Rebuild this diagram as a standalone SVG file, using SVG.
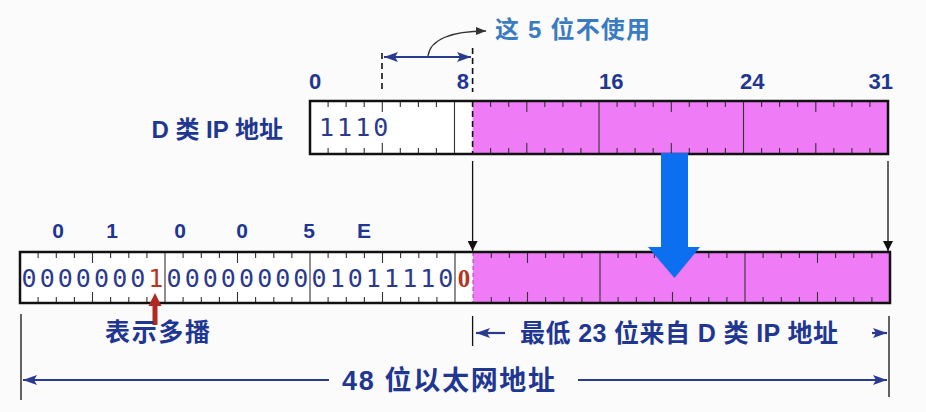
<svg xmlns="http://www.w3.org/2000/svg" width="926" height="412" viewBox="0 0 926 412">
<style>
.lbl{font-family:"Liberation Sans","Noto Sans CJK SC",sans-serif;font-weight:bold;fill:#1f3790}
.bits{font-family:"DejaVu Sans Mono","Liberation Mono",monospace;font-size:25px;fill:#2b3a8c}
.box{stroke:#111;stroke-width:2.5;fill:none}
.tk{stroke:#333;stroke-width:1.1;fill:none}
.nav{stroke:#2a3a8f;stroke-width:2.2;fill:none}
.thin{stroke:#111;stroke-width:1.3;fill:none}
</style>
<defs>
<marker id="ah" viewBox="0 0 10 10" refX="10" refY="5" markerWidth="10" markerHeight="10" markerUnits="userSpaceOnUse" orient="auto"><path d="M0,0L10,5L0,10z" fill="#111"/></marker>
<marker id="nh" viewBox="0 0 14 10" refX="14" refY="5" markerWidth="14" markerHeight="10" markerUnits="userSpaceOnUse" orient="auto-start-reverse"><path d="M0,0L14,5L0,10L3,5z" fill="#2a3a8f"/></marker>
<marker id="gh" viewBox="0 0 10 8" refX="10" refY="4" markerWidth="10" markerHeight="8" markerUnits="userSpaceOnUse" orient="auto"><path d="M0,0L10,4L0,8z" fill="#333"/></marker>
</defs>
<rect width="926" height="412" fill="#fbfbfb"/>

<g id="ip-box">
<rect x="310" y="101" width="162.6" height="53" fill="#fff"/>
<rect x="472.6" y="101" width="415.4" height="53" fill="#f07bf6"/>
<path class="tk" d="M328.1 101v6M346.1 101v6M364.2 101v6M400.3 101v6M418.4 101v6M436.4 101v6M490.6 101v6M508.7 101v6M544.8 101v6M562.9 101v6M580.9 101v6M617.1 101v6M635.1 101v6M653.2 101v6M689.3 101v6M707.4 101v6M725.4 101v6M761.6 101v6M779.6 101v6M797.7 101v6M833.8 101v6M851.9 101v6M869.9 101v6
M328.1 154v-6M346.1 154v-6M364.2 154v-6M400.3 154v-6M418.4 154v-6M436.4 154v-6M490.6 154v-6M508.7 154v-6M544.8 154v-6M562.9 154v-6M580.9 154v-6M617.1 154v-6M635.1 154v-6M653.2 154v-6M689.3 154v-6M707.4 154v-6M725.4 154v-6M761.6 154v-6M779.6 154v-6M797.7 154v-6M833.8 154v-6M851.9 154v-6M869.9 154v-6
M382.3 101v11M526.8 101v11M671.3 101v11M815.8 101v11M382.3 154v-11M526.8 154v-11M671.3 154v-11M815.8 154v-11
M454.5 101V154M599 101V154M743.5 101V154"/>
<path d="M472.6 101V154" stroke="#111" stroke-width="1.6" stroke-dasharray="6 4"/>
<rect class="box" x="310" y="101" width="578" height="53"/>
<text class="bits" y="136" x="319 337.1 355.2 373.3">1110</text>
</g>

<g id="mac-box">
<rect x="20" y="252" width="453.1" height="51" fill="#fff"/>
<rect x="473.1" y="252" width="416.9" height="51" fill="#f07bf6"/>
<path class="tk" d="M38.1 252v6M56.3 252v6M74.4 252v6M110.6 252v6M128.8 252v6M146.9 252v6M183.1 252v6M201.3 252v6M219.4 252v6M255.6 252v6M273.8 252v6M291.9 252v6M328.1 252v6M346.3 252v6M364.4 252v6M400.6 252v6M418.8 252v6M436.9 252v6M491.3 252v6M509.4 252v6M545.6 252v6M563.8 252v6M581.9 252v6M618.1 252v6M636.3 252v6M654.4 252v6M690.6 252v6M708.8 252v6M726.9 252v6M763.1 252v6M781.3 252v6M799.4 252v6M835.6 252v6M853.8 252v6M871.9 252v6
M38.1 303v-6M56.3 303v-6M74.4 303v-6M110.6 303v-6M128.8 303v-6M146.9 303v-6M183.1 303v-6M201.3 303v-6M219.4 303v-6M255.6 303v-6M273.8 303v-6M291.9 303v-6M328.1 303v-6M346.3 303v-6M364.4 303v-6M400.6 303v-6M418.8 303v-6M436.9 303v-6M491.3 303v-6M509.4 303v-6M545.6 303v-6M563.8 303v-6M581.9 303v-6M618.1 303v-6M636.3 303v-6M654.4 303v-6M690.6 303v-6M708.8 303v-6M726.9 303v-6M763.1 303v-6M781.3 303v-6M799.4 303v-6M835.6 303v-6M853.8 303v-6M871.9 303v-6
M92.5 252v11M237.5 252v11M382.5 252v11M527.5 252v11M672.5 252v11M817.5 252v11M92.5 303v-11M237.5 303v-11M382.5 303v-11M527.5 303v-11M672.5 303v-11M817.5 303v-11
M165 252V303M310 252V303M455 252V303M600 252V303M745 252V303"/>
<path d="M473.1 252V303" stroke="#c04cc4" stroke-width="1.3" stroke-dasharray="4 3"/>
<rect class="box" x="20" y="252" width="870" height="51"/>
<text class="bits" y="287" text-anchor="middle" x="29.1 47.2 65.3 83.4 101.6 119.7 137.8">0000000</text>
<text class="bits" y="287" text-anchor="middle" x="155.9" style="fill:#b5361f">1</text>
<text class="bits" y="287" text-anchor="middle" x="174.1 192.2 210.3 228.4 246.6 264.7 282.8 300.9">00000000</text>
<text class="bits" y="287" text-anchor="middle" x="319.1 337.2 355.3 373.4 391.6 409.7 427.8 445.9">01011110</text>
<text y="287" x="464.1" text-anchor="middle" font-family="'Liberation Serif',serif" font-weight="bold" font-size="25" fill="#b5361f">0</text>
</g>

<g id="connectors">
<path d="M382 53V92" stroke="#111" stroke-width="1.6" stroke-dasharray="6 4"/>
<path d="M472.6 48V92" stroke="#111" stroke-width="1.6" stroke-dasharray="6 4"/>
<path class="nav" d="M384 57H471" marker-start="url(#nh)" marker-end="url(#nh)"/>
<path d="M428 56C430 40 450 31 486 31" stroke="#333" stroke-width="1.3" fill="none" marker-end="url(#gh)"/>
<path class="thin" d="M472.6 161V251" marker-end="url(#ah)"/>
<path class="thin" d="M888 161V251" marker-end="url(#ah)"/>
<polygon points="661,153 688,153 688,247 700,247 674.5,278 648,247 661,247" fill="#0b6ff0"/>
<polygon points="155,293 161.5,306 148.5,306" fill="#b02a22"/>
<rect x="152.5" y="305" width="5" height="20" fill="#b02a22"/>
<path class="thin" d="M21 314V400M472.6 316V346M889 316V397"/>
<path class="nav" d="M505 333H476" marker-end="url(#nh)"/>
<path class="nav" d="M872 333H887" marker-end="url(#nh)"/>
<path class="nav" d="M329 380H23" marker-end="url(#nh)"/>
<path class="nav" d="M578 380H887" marker-end="url(#nh)"/>
</g>

<g id="labels">
<text class="lbl" x="495" y="38" font-size="24" textLength="155" style="fill:#3b7bbf">这 5 位不使用</text>
<text class="lbl" x="309" y="89" font-size="22">0</text>
<text class="lbl" x="469" y="89" font-size="22" text-anchor="end">8</text>
<text class="lbl" x="599" y="89" font-size="22">16</text>
<text class="lbl" x="740" y="89" font-size="22">24</text>
<text class="lbl" x="893" y="89" font-size="22" text-anchor="end">31</text>
<text class="lbl" x="283" y="138" font-size="24" text-anchor="end">D 类 IP 地址</text>
<text class="lbl" y="238" font-size="21" text-anchor="middle" x="58">0</text>
<text class="lbl" y="238" font-size="21" text-anchor="middle" x="112">1</text>
<text class="lbl" y="238" font-size="21" text-anchor="middle" x="180">0</text>
<text class="lbl" y="238" font-size="21" text-anchor="middle" x="242">0</text>
<text class="lbl" y="238" font-size="21" text-anchor="middle" x="309">5</text>
<text class="lbl" y="238" font-size="21" text-anchor="middle" x="364">E</text>
<text class="lbl" x="105" y="341" font-size="25" textLength="105">表示多播</text>
<text class="lbl" x="520" y="342" font-size="25" textLength="318">最低 23 位来自 D 类 IP 地址</text>
<text class="lbl" x="342" y="390" font-size="27" textLength="213">48 位以太网地址</text>
</g>
</svg>
